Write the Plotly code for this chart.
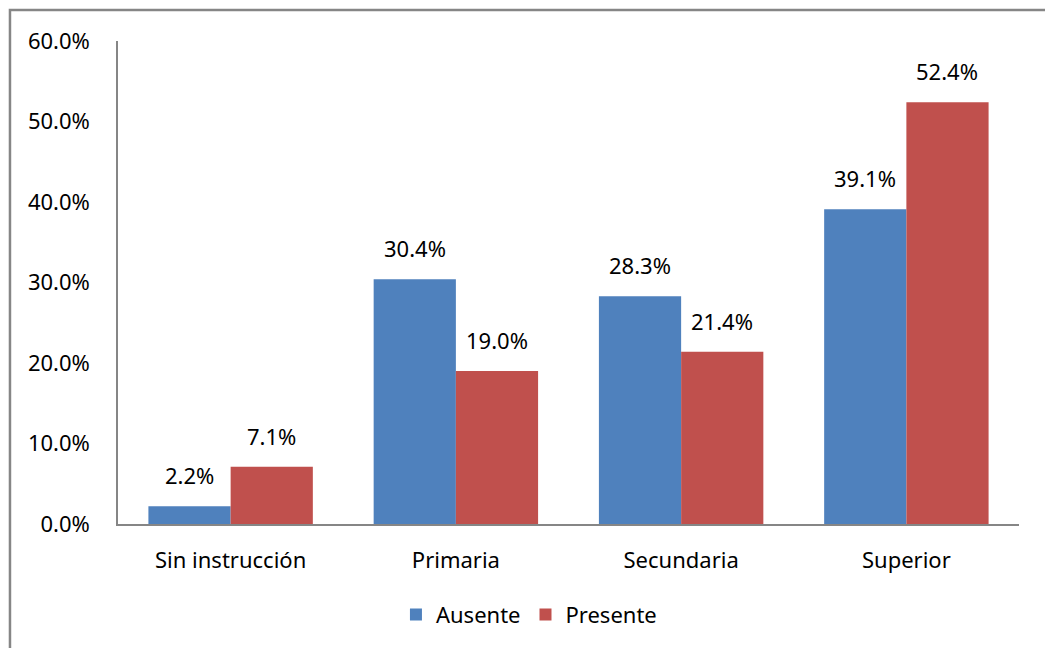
import plotly.graph_objects as go

categories = ["Sin instrucción", "Primaria", "Secundaria", "Superior"]
ausente = [0.022, 0.304, 0.283, 0.391]
presente = [0.071, 0.190, 0.214, 0.524]
series_names = ["Ausente", "Presente"]
series_colors = ["#4F81BD", "#C0504D"]

FONT = "Noto Sans"
FONT_SIZE = 22
AXIS_GRAY = "#868686"
BAR_OFFSET_PX = 41  # half of one bar's width, in pixels

fig = go.Figure()
annotations = []
for i, (name, vals, color) in enumerate(zip(series_names, [ausente, presente], series_colors)):
    fig.add_trace(go.Bar(
        x=categories, y=vals, name=name,
        marker=dict(color=color, line=dict(width=0)),
    ))
    shift = -BAR_OFFSET_PX if i == 0 else BAR_OFFSET_PX
    for cat, v in zip(categories, vals):
        annotations.append(dict(
            x=cat, y=v, xref="x", yref="y", text=f"{v * 100:.1f}%",
            showarrow=False, xshift=shift, yshift=14, yanchor="bottom",
            font=dict(family=FONT, size=FONT_SIZE, color="#000000"),
        ))

fig.update_layout(
    width=1045, height=648,
    margin=dict(l=118, r=26, t=41, b=124),
    paper_bgcolor="white", plot_bgcolor="white",
    barmode="group", bargap=0.27, bargroupgap=0,
    font=dict(family=FONT, size=FONT_SIZE, color="#000000"),
    showlegend=True,
    legend=dict(orientation="h", x=0.4561, xanchor="center", y=-0.188, yanchor="middle",
                font=dict(family=FONT, size=FONT_SIZE), itemwidth=30, traceorder="normal"),
    yaxis=dict(range=[0, 0.6], dtick=0.1, tickformat=".1%", showgrid=False,
               showline=True, linecolor=AXIS_GRAY, linewidth=1.5, zeroline=False,
               ticks="", ticklabelstandoff=22),
    xaxis=dict(showline=True, linecolor=AXIS_GRAY, linewidth=1.5, ticks="",
               ticklabelstandoff=16, showgrid=False),
    annotations=annotations,
    shapes=[dict(type="rect", xref="paper", yref="paper",
                 x0=-0.1199, y0=-0.6, x1=1.2, y1=1.0642,
                 line=dict(color=AXIS_GRAY, width=2.5), fillcolor="rgba(0,0,0,0)", layer="below")],
)

fig.write_html("out.html")
